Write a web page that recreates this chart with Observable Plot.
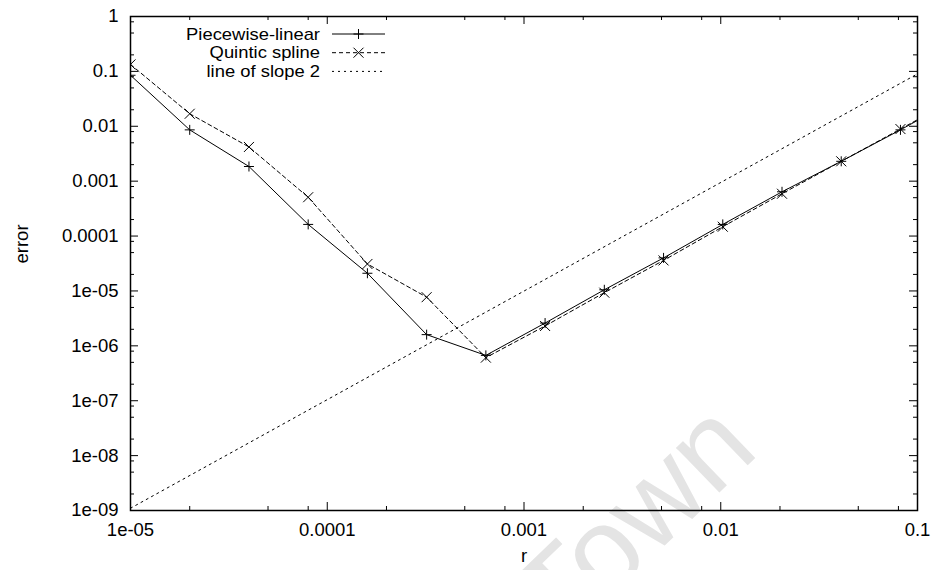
<!DOCTYPE html>
<html>
<head>
<meta charset="utf-8">
<script src="https://cdn.jsdelivr.net/npm/d3@7"></script>
<script src="https://cdn.jsdelivr.net/npm/@observablehq/plot@0.6"></script>
<style>
  html, body { margin: 0; padding: 0; background: #fff; }
  #chart svg { display: block; }
</style>
</head>
<body>
<div id="chart"></div>
<script>
// Sample radii (each one double the previous) and the interpolation errors.
const r = [1e-5, 2e-5, 4e-5, 8e-5, 1.6e-4, 3.2e-4, 6.4e-4, 1.28e-3, 2.56e-3, 5.12e-3, 1.024e-2, 2.048e-2, 4.096e-2, 8.192e-2, 0.16384];
const piecewiseLinear = [0.085, 8.6e-3, 1.85e-3, 1.63e-4, 2.1e-5, 1.6e-6, 6.7e-7, 2.6e-6, 1.05e-5, 4.0e-5, 1.63e-4, 6.4e-4, 2.3e-3, 8.6e-3, 0.034];
const quinticSpline = [0.134, 0.0169, 4.2e-3, 5.1e-4, 3.1e-5, 7.7e-6, 6.1e-7, 2.3e-6, 9.3e-6, 3.6e-5, 1.48e-4, 5.9e-4, 2.3e-3, 8.9e-3, 0.035];

// Reference line of slope 2 (two end points on the log-log axes).
const slopeR = [1e-5, 0.1];
const slopeErr = [1.1e-9, 0.09];

// Axis ticks and their labels.
const rTicks = [1e-5, 1e-4, 1e-3, 1e-2, 1e-1];
const rTickLabels = ["1e-05", "0.0001", "0.001", "0.01", "0.1"];
const errTicks = [1, 1e-1, 1e-2, 1e-3, 1e-4, 1e-5, 1e-6, 1e-7, 1e-8, 1e-9];
const errTickLabels = ["1", "0.1", "0.01", "0.001", "0.0001", "1e-05", "1e-06", "1e-07", "1e-08", "1e-09"];
const minorMultipliers = [2, 5, 8];

const seriesNames = ["Piecewise-linear", "Quintic spline", "line of slope 2"];

// Tables built from the arrays above.
const linearRows = r.map((x, i) => ({r: x, err: piecewiseLinear[i]}));
const splineRows = r.map((x, i) => ({r: x, err: quinticSpline[i]}));
const slopeRows = slopeR.map((x, i) => ({r: x, err: slopeErr[i]}));
const rMinor = rTicks.slice(0, -1).flatMap(d => minorMultipliers.map(m => d * m));
const errMinor = errTicks.slice(1).flatMap(d => minorMultipliers.map(m => d * m));
const rLabelRows = rTicks.map((v, i) => ({v, label: rTickLabels[i]}));
const errLabelRows = errTicks.map((v, i) => ({v, label: errTickLabels[i]}));

const W = 938, H = 570;
const M = {top: 16, right: 21, bottom: 60, left: 130};
const FW = W - M.left - M.right;
const FH = H - M.top - M.bottom;
const MAJOR = 8, MINOR = 4;
const FONT = "Liberation Sans, Arial, Helvetica, sans-serif";
const FS = 18.5;

// Gnuplot-style point symbols; size maps to the half-length of the arms.
const plusSymbol = {
  draw(ctx, size) {
    const h = Math.sqrt(size / Math.PI);
    ctx.moveTo(-h, 0); ctx.lineTo(h, 0);
    ctx.moveTo(0, -h); ctx.lineTo(0, h);
  }
};
const crossSymbol = {
  draw(ctx, size) {
    const h = Math.sqrt(size / Math.PI);
    ctx.moveTo(-h, -h); ctx.lineTo(h, h);
    ctx.moveTo(-h, h); ctx.lineTo(h, -h);
  }
};

// Inward ticks on all four sides of the frame.
const tickMarksX = (values, len) => [
  Plot.tickX(values, {x: d => d, insetTop: FH - len, stroke: "#000", strokeWidth: 1}),
  Plot.tickX(values, {x: d => d, insetBottom: FH - len, stroke: "#000", strokeWidth: 1})
];
const tickMarksY = (values, len) => [
  Plot.tickY(values, {y: d => d, insetRight: FW - len, stroke: "#000", strokeWidth: 1}),
  Plot.tickY(values, {y: d => d, insetLeft: FW - len, stroke: "#000", strokeWidth: 1})
];

const chart = Plot.plot({
  width: W,
  height: H,
  marginTop: M.top,
  marginRight: M.right,
  marginBottom: M.bottom,
  marginLeft: M.left,
  style: {fontFamily: FONT, fontSize: FS + "px", background: "#fff", color: "#000"},
  x: {type: "log", domain: [1e-5, 0.1], axis: null},
  y: {type: "log", domain: [1e-9, 1], axis: null},
  marks: [
    ...tickMarksX(rTicks, MAJOR),
    ...tickMarksX(rMinor, MINOR),
    ...tickMarksY(errTicks, MAJOR),
    ...tickMarksY(errMinor, MINOR),

    // reference line of slope 2
    Plot.line(slopeRows, {x: "r", y: "err", stroke: "#000", strokeWidth: 1, strokeDasharray: "2,4", clip: true}),

    // quintic spline errors
    Plot.line(splineRows, {x: "r", y: "err", stroke: "#000", strokeWidth: 1, strokeDasharray: "4,3", clip: true}),
    Plot.dot(splineRows, {x: "r", y: "err", symbol: crossSymbol, r: 5, stroke: "#000", strokeWidth: 1, fill: "none", clip: true}),

    // piecewise-linear errors
    Plot.line(linearRows, {x: "r", y: "err", stroke: "#000", strokeWidth: 1, clip: true}),
    Plot.dot(linearRows, {x: "r", y: "err", symbol: plusSymbol, r: 5, stroke: "#000", strokeWidth: 1, fill: "none", clip: true}),

    Plot.frame({stroke: "#000", strokeWidth: 1.5}),

    // tick labels
    Plot.text(rLabelRows, {x: "v", text: "label", frameAnchor: "bottom", dy: 20, lineAnchor: "middle", fontSize: FS, fill: "#000"}),
    Plot.text(errLabelRows, {y: "v", text: "label", frameAnchor: "left", textAnchor: "end", dx: -12, fontSize: FS, fill: "#000"}),

    // axis titles
    Plot.text(["r"], {text: d => d, frameAnchor: "bottom", dy: 46, lineAnchor: "middle", fontSize: FS, fill: "#000"}),
    Plot.text(["error"], {text: d => d, frameAnchor: "left", dx: -108, rotate: -90, fontSize: FS, fill: "#000"})
  ]
});

document.getElementById("chart").appendChild(chart);

const svg = d3.select(chart);

// Faint background lettering, placed beneath the plotted marks.
const firstGroup = chart.querySelector("g");
const wm = document.createElementNS("http://www.w3.org/2000/svg", "text");
chart.insertBefore(wm, firstGroup);
d3.select(wm)
  .attr("transform", "translate(640,526) rotate(-44)")
  .attr("text-anchor", "middle")
  .attr("dominant-baseline", "middle")
  .attr("font-family", FONT)
  .attr("font-size", 118)
  .attr("fill", "#e4e4e4")
  .text("Town");

// Legend in the upper-left of the frame; the labels are set a little
// narrower in height than width so the three rows stay tightly packed.
const legend = svg.append("g").attr("font-family", FONT);
const rowY = [34, 52.7, 71.4];
const textRight = 320, lineX0 = 332, lineX1 = 385, markX = 358.5;
const LFS = 16, LSX = 1.15;
const dashes = [null, "4,3", "2,4"];
seriesNames.forEach((name, i) => {
  legend.append("text")
    .attr("transform", `translate(${textRight},${rowY[i]}) scale(${LSX},1)`)
    .attr("font-size", LFS)
    .attr("text-anchor", "end").attr("dy", "0.36em")
    .attr("fill", "#000").text(name);
  legend.append("line")
    .attr("x1", lineX0).attr("x2", lineX1)
    .attr("y1", rowY[i]).attr("y2", rowY[i])
    .attr("stroke", "#000").attr("stroke-width", 1)
    .attr("stroke-dasharray", dashes[i]);
});
const h = 5;
legend.append("path")
  .attr("d", `M${markX - h},${rowY[0]}H${markX + h}M${markX},${rowY[0] - h}V${rowY[0] + h}`)
  .attr("stroke", "#000").attr("fill", "none");
legend.append("path")
  .attr("d", `M${markX - h},${rowY[1] - h}L${markX + h},${rowY[1] + h}M${markX - h},${rowY[1] + h}L${markX + h},${rowY[1] - h}`)
  .attr("stroke", "#000").attr("fill", "none");
</script>
</body>
</html>
